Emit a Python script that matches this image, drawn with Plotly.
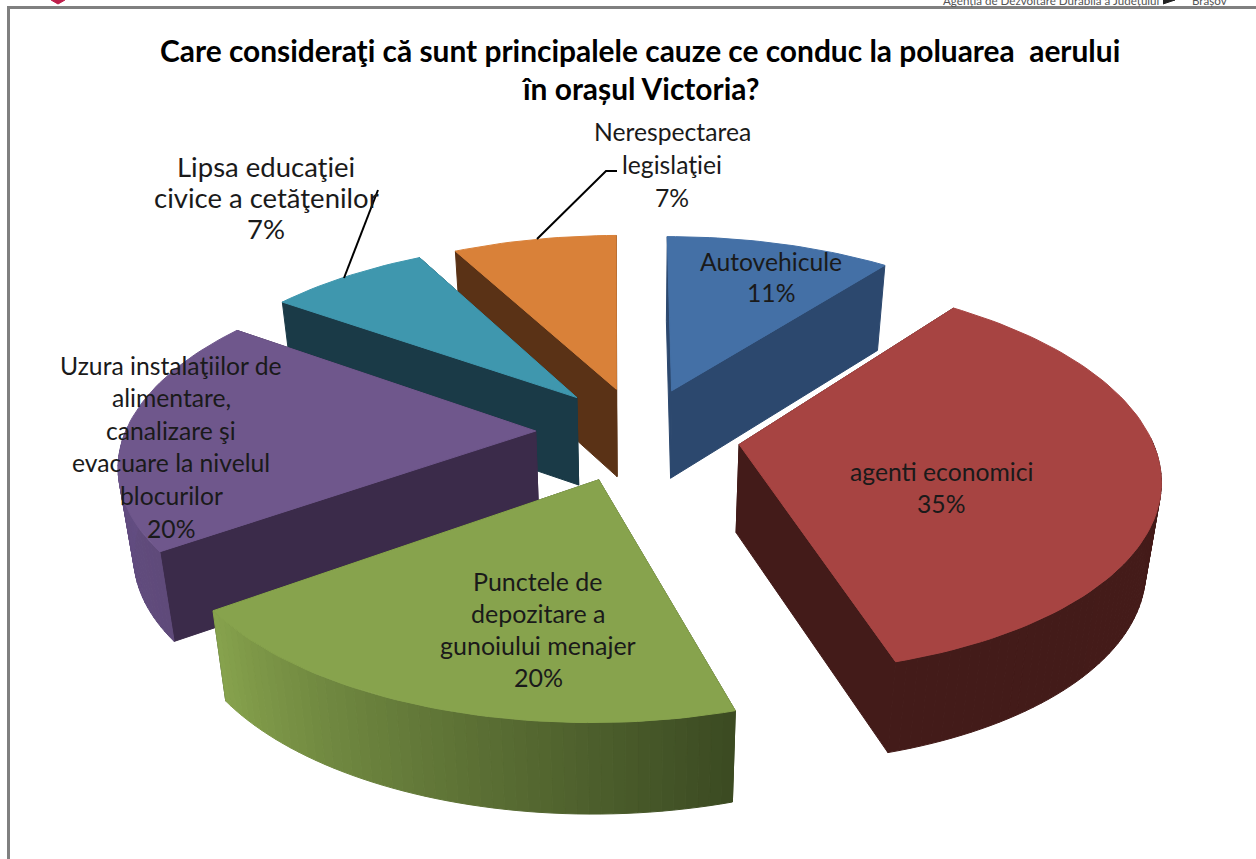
import math
import numpy as np
import plotly.graph_objects as go

# ---- data ----
categories = ["Autovehicule", "agenti economici", "Punctele de depozitare a gunoiului menajer",
              "Uzura instalaţiilor de alimentare, canalizare şi evacuare la nivelul blocurilor",
              "Lipsa educaţiei civice a cetăţenilor", "Nerespectarea legislaţiei"]
values = [11, 35, 20, 20, 7, 7]
top_colors = ["#4470A6", "#A74442", "#87A34D", "#6F578C", "#3F97AE", "#D98139"]
inner_colors = ["#2C486E", "#431B19", "#3B4A22", "#3B2B4A", "#1A3A47", "#5A3216"]
wall_start = ["#2C486E", "#451C1A", "#3B4A22", "#5F4A7A", "#1A3A47", "#5A3216"]
wall_end = ["#2C486E", "#431B19", "#87A34D", "#67518A", "#1A3A47", "#5A3216"]
label_lines = [["Autovehicule"], ["agenti economici"], ["Punctele de", "depozitare a", "gunoiului menajer"],
               ["Uzura instalaţiilor de", "alimentare,", "canalizare şi", "evacuare la nivelul", "blocurilor"],
               ["Lipsa educaţiei", "civice a cetăţenilor"], ["Nerespectarea", "legislaţiei"]]
label_x = [771, 941, 538, 171, 266, 672]
label_y = [261, 471, 581, 365, 166, 131]
label_step = [31, 32, 32, 32.6, 31, 33]
label_size = [24.7, 24.7, 25, 24.7, 27.5, 24.7]
title_lines = ["Care consideraţi că sunt principalele cauze ce conduc la poluarea  aerului", "în orașul Victoria?"]

# ---- projection of the exploded pie ----
CX, CY, RX, RY, P, DEPTH, EXPLODE, TAPER = 638, 434, 411, 190, 0.153, 88, 0.25, 0.03
# small view distortion of the original 3-D camera (degrees of rim angle)
WARP_AT = [0, 40, 166, 238, 310, 335, 360]
WARP_BY = [0, 2, 2.2, 3.2, 4.2, 2.6, 0.5]
FONT = "Lato"


def warp(a):
    return a - math.radians(float(np.interp(math.degrees(a), WARP_AT, WARP_BY)))


def project(X, Y, z=0.0):
    s = 1 / (1 + P * Y)
    x = CX + RX * X * s
    y = CY - RY * Y * s
    if z:
        x = CX + (x - CX) * (1 - TAPER)
        y = y + DEPTH * (1 + 0.07 * (1 / s - 1) * -3)
    return x, y


def mix(a, b, t):
    ca = [int(a[i:i + 2], 16) for i in (1, 3, 5)]
    cb = [int(b[i:i + 2], 16) for i in (1, 3, 5)]
    return "rgb(%d,%d,%d)" % tuple(round(u + (v - u) * t) for u, v in zip(ca, cb))


fig = go.Figure()


def poly(points, color):
    fig.add_trace(go.Scatter(x=[p[0] for p in points] + [points[0][0]],
                             y=[p[1] for p in points] + [points[0][1]],
                             mode="lines", fill="toself", fillcolor=color,
                             line=dict(color=color, width=1), hoverinfo="skip", showlegend=False))


total = sum(values)
angles = [0]
for v in values:
    angles.append(angles[-1] + v / total * 2 * math.pi)

slices = []
for i in range(len(values)):
    a0, a1 = angles[i], angles[i + 1]
    mid = (a0 + a1) / 2
    ox, oy = EXPLODE * math.sin(mid), EXPLODE * math.cos(mid)
    slices.append((i, a0, a1, ox, oy))

# painter's order: far slices first
for i, a0, a1, ox, oy in sorted(slices, key=lambda s: -s[4]):
    n = max(12, int((a1 - a0) * 40))
    arc = [a0 + (a1 - a0) * k / n for k in range(n + 1)]
    rim = [(ox + math.sin(warp(a)), oy + math.cos(warp(a))) for a in arc]
    apex = (ox, oy)

    def face(g):
        return [project(*apex), project(*g), project(*g, 1), project(*apex, 1)]

    faces = [(math.sin(warp(a0)), face(rim[0])), (-math.sin(warp(a1)), face(rim[-1]))]
    for normal, pts in sorted(faces, key=lambda f: f[0], reverse=True):
        poly(pts, inner_colors[i])
    for k in range(n):
        a = (arc[k] + arc[k + 1]) / 2
        if math.cos(warp(a)) < 0.02:
            poly([project(*rim[k]), project(*rim[k + 1]), project(*rim[k + 1], 1), project(*rim[k], 1)],
                 mix(wall_start[i], wall_end[i], max(0, min(1, (a - a0) / (a1 - a0)))))
    poly([project(*apex)] + [project(*r) for r in rim], top_colors[i])

# page furniture
fig.add_trace(go.Scatter(x=[51, 58, 65], y=[0, 4, 0], mode="lines", fill="toself", fillcolor="#BE1E4A",
                         line=dict(color="#BE1E4A", width=1), hoverinfo="skip", showlegend=False))
fig.add_trace(go.Scatter(x=[1163, 1175, 1163], y=[0, 0, 4], mode="lines", fill="toself", fillcolor="#222",
                         line=dict(color="#222", width=1), hoverinfo="skip", showlegend=False))

shapes = [
    dict(type="line", x0=8.5, x1=8.5, y0=7, y1=859, line=dict(color="#808080", width=3)),
    dict(type="line", x0=7, x1=1256, y0=7.5, y1=7.5, line=dict(color="#808080", width=3)),
    dict(type="path", path="M 378 190 L 344 278", line=dict(color="black", width=2)),
    dict(type="path", path="M 617 171 L 606 171 L 537 239", line=dict(color="black", width=2)),
]

ann = []


def text(x, y, t, size, bold=False, color="black", anchor="center"):
    ann.append(dict(x=x, y=y, text="<b>%s</b>" % t if bold else t, showarrow=False, xanchor=anchor, yanchor="middle",
                    font=dict(family=FONT, size=size, color=color)))


for k, line in enumerate(title_lines):
    text(640, 50 + 38 * k, line, 29.9, bold=True)
for i, lines in enumerate(label_lines):
    lines = lines + ["%d%%" % round(values[i] / total * 100)]
    for k, line in enumerate(lines):
        text(label_x[i], label_y[i] + label_step[i] * k, line, label_size[i], color="#1a1a1a")
text(1051, 0, "Agenția de Dezvoltare Durabilă a Județului", 11.6, color="#555")
text(1209, 0, "Brașov", 11.6, color="#555")

fig.update_layout(width=1256, height=859, margin=dict(l=0, r=0, t=0, b=0), paper_bgcolor="white",
                  plot_bgcolor="white", showlegend=False, shapes=shapes, annotations=ann,
                  xaxis=dict(range=[0, 1256], visible=False, fixedrange=True),
                  yaxis=dict(range=[859, 0], visible=False, fixedrange=True))
fig.write_html("out.html", post_script="document.body.style.margin='0';document.body.style.overflow='hidden';",
               config={"displayModeBar": False})
